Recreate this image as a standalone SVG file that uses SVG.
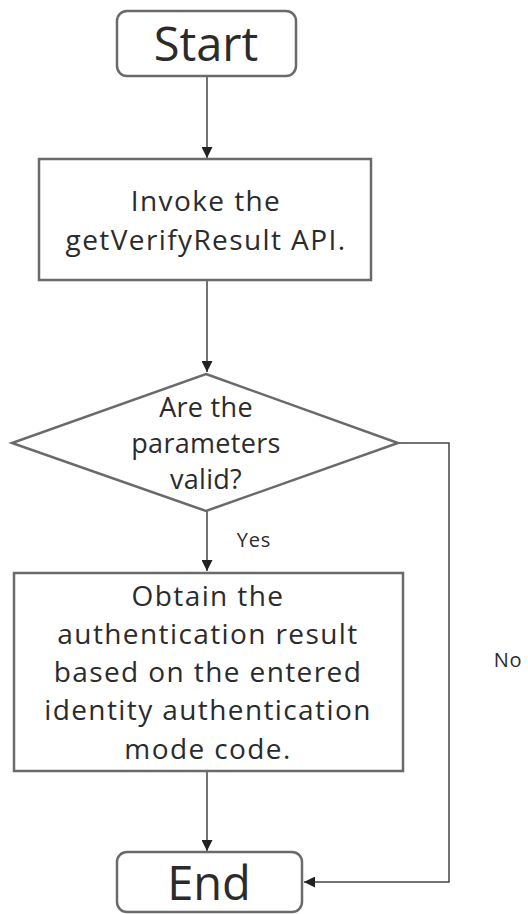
<svg xmlns="http://www.w3.org/2000/svg" width="528" height="914" viewBox="0 0 528 914">
<style>
.shape{fill:#fff;stroke:#6a6a6a;stroke-width:2.5}
.conn{fill:none;stroke:#444;stroke-width:1.5}
text{font-family:"Open Sans","Noto Sans","Liberation Sans",sans-serif;fill:#2b2b2b;text-anchor:middle}
.big{font-size:47px}
.mid{font-size:28px;letter-spacing:1.4px}
.dia{font-size:27px;letter-spacing:0.3px}
.small{font-size:20px;letter-spacing:0.8px}
</style>
<defs>
<marker id="arr" viewBox="0 0 10 10" refX="10" refY="5" markerWidth="11" markerHeight="11" markerUnits="userSpaceOnUse" orient="auto">
<path d="M0,0 L10,5 L0,10 z" fill="#222"/>
</marker>
</defs>
<rect width="528" height="914" fill="#fff"/>
<g id="connectors">
<path class="conn" d="M207,76 V158" marker-end="url(#arr)"/>
<path class="conn" d="M207,280 V372" marker-end="url(#arr)"/>
<path class="conn" d="M207,511 V571" marker-end="url(#arr)"/>
<path class="conn" d="M207,771 V851" marker-end="url(#arr)"/>
<path class="conn" d="M398,443 H449 V882 H304" marker-end="url(#arr)"/>
<text class="small" x="254" y="547">Yes</text>
<text class="small" x="508" y="667">No</text>
</g>
<g id="start">
<rect class="shape" x="117" y="11" width="179" height="65" rx="10"/>
<text class="big" x="206" y="61">Start</text>
</g>
<g id="invoke">
<rect class="shape" x="39" y="159" width="332" height="121"/>
<text class="mid" x="206" y="211">Invoke the</text>
<text class="mid" x="206" y="250">getVerifyResult API.</text>
</g>
<g id="decision">
<polygon class="shape" points="206,374 398,443 206,511 12,443"/>
<text class="dia" x="206" y="417">Are the</text>
<text class="dia" x="206" y="453">parameters</text>
<text class="dia" x="206" y="489">valid?</text>
</g>
<g id="obtain">
<rect class="shape" x="14" y="573" width="389" height="198"/>
<text class="mid" x="208" y="606">Obtain the</text>
<text class="mid" x="208" y="644">authentication result</text>
<text class="mid" x="208" y="682">based on the entered</text>
<text class="mid" x="208" y="720">identity authentication</text>
<text class="mid" x="208" y="759">mode code.</text>
</g>
<g id="end">
<rect class="shape" x="117" y="852" width="185" height="60" rx="10"/>
<text class="big" x="209" y="900">End</text>
</g>
</svg>
